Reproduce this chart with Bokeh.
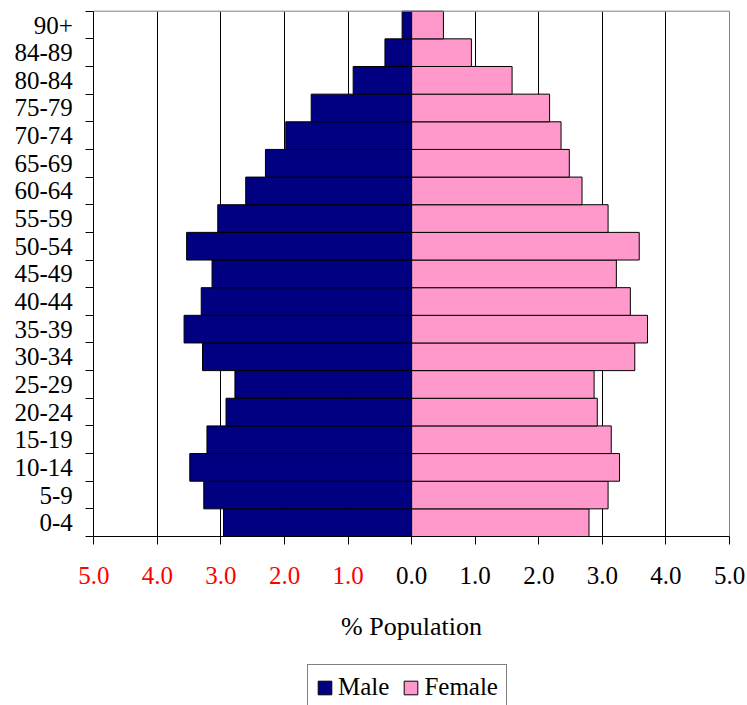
from bokeh.plotting import figure
from bokeh.models import (Range1d, FixedTicker, ColumnDataSource, Legend, LegendItem,
                          LinearAxis, Grid)
from bokeh.embed import file_html
from bokeh.resources import INLINE

ages = ["0-4", "5-9", "10-14", "15-19", "20-24", "25-29", "30-34", "35-39", "40-44",
        "45-49", "50-54", "55-59", "60-64", "65-69", "70-74", "75-79", "80-84", "84-89", "90+"]
male = [2.96, 3.27, 3.49, 3.22, 2.92, 2.78, 3.29, 3.58, 3.31,
        3.14, 3.54, 3.05, 2.61, 2.30, 1.98, 1.58, 0.92, 0.42, 0.15]
female = [2.79, 3.09, 3.27, 3.14, 2.92, 2.87, 3.51, 3.71, 3.44,
          3.22, 3.58, 3.09, 2.68, 2.48, 2.35, 2.17, 1.58, 0.94, 0.50]
x_ticks = [-5, -4, -3, -2, -1, 0, 1, 2, 3, 4, 5]
x_tick_labels = ["5.0", "4.0", "3.0", "2.0", "1.0", "0.0", "1.0", "2.0", "3.0", "4.0", "5.0"]

FONT = "Liberation Serif"
W, H = 747, 705
# pixel placement of the plotting area inside the canvas (layout only)
PL, PR, PT, PB = 93.3, 729.0, 10.7, 536.0

n = len(ages)
xmin, xmax = x_ticks[0], x_ticks[-1]
ux = (PR - PL) / (xmax - xmin)
uy = (PB - PT) / n
x_range = Range1d(xmin - PL / ux, xmax + (W - PR) / ux)
y_range = Range1d(-(H - PB) / uy, n + PT / uy)

ypos = [i + 0.5 for i in range(n)]
src = ColumnDataSource(dict(y=ypos, male_left=[-v for v in male], female=female,
                            zero=[0] * n, age=ages))

p = figure(width=W, height=H, output_backend="svg", toolbar_location=None,
           x_range=x_range, y_range=y_range,
           x_axis_location=None, y_axis_location=None,
           min_border=0, min_border_left=0, min_border_right=0,
           min_border_top=0, min_border_bottom=0)
p.outline_line_color = None
p.background_fill_color = "white"
p.border_fill_color = "white"
p.grid.visible = False

# vertical grid lines, only over the bars area
grid_ticks = [t for t in x_ticks if xmin < t < xmax]
if "cross_bounds" in Grid.properties():
    g = Grid(dimension=0, ticker=FixedTicker(ticks=grid_ticks), cross_bounds=(0, n),
             grid_line_color="black", grid_line_width=1)
    p.add_layout(g)
else:
    p.segment(x0=grid_ticks, y0=[0] * len(grid_ticks), x1=grid_ticks, y1=[n] * len(grid_ticks),
              line_color="black", line_width=1)

m = p.hbar(y="y", left="male_left", right="zero", height=1, source=src,
           fill_color="#000080", line_color="black", line_width=1)
f = p.hbar(y="y", left="zero", right="female", height=1, source=src,
           fill_color="#FF99CC", line_color="black", line_width=1)

# grey plot-area border (top and right)
p.line(x=[xmin, xmax, xmax], y=[n, n, 0], line_color="#808080", line_width=1)

# x axis: black labels for the female side + axis title
xa = LinearAxis(fixed_location=0, ticker=FixedTicker(ticks=x_ticks), bounds=(xmin, xmax))
xa.major_label_overrides = {t: (lab if t >= 0 else "") for t, lab in zip(x_ticks, x_tick_labels)}
xa.major_tick_out = 8
xa.major_tick_in = 0
xa.minor_tick_line_color = None
xa.major_tick_line_color = "black"
xa.axis_line_color = "black"
xa.major_label_standoff = 22
xa.major_label_text_font = FONT
xa.major_label_text_font_size = "25px"
xa.major_label_text_color = "black"
xa.axis_label = "% Population"
xa.axis_label_text_font = FONT
xa.axis_label_text_font_size = "26px"
xa.axis_label_text_font_style = "normal"
xa.axis_label_text_color = "black"
xa.axis_label_standoff = 25
p.add_layout(xa, "below")

# same axis position, red labels for the male side
ra = LinearAxis(fixed_location=0, ticker=FixedTicker(ticks=x_ticks), bounds=(xmin, xmax))
ra.major_label_overrides = {t: (lab if t < 0 else "") for t, lab in zip(x_ticks, x_tick_labels)}
ra.major_tick_out = 8
ra.major_tick_in = 0
ra.major_tick_line_color = None
ra.minor_tick_line_color = None
ra.axis_line_color = None
ra.major_label_standoff = 22
ra.major_label_text_font = FONT
ra.major_label_text_font_size = "25px"
ra.major_label_text_color = "#FF0000"
p.add_layout(ra, "below")

# y axis: labels centred in each band, tick marks on the band boundaries
ya = LinearAxis(fixed_location=xmin, bounds=(0, n),
                ticker=FixedTicker(ticks=ypos, minor_ticks=list(range(n + 1))))
ya.major_label_overrides = {y: a for y, a in zip(ypos, ages)}
ya.major_tick_out = 0
ya.major_tick_in = 0
ya.minor_tick_out = 8
ya.minor_tick_in = 0
ya.minor_tick_line_color = "black"
ya.axis_line_color = "black"
ya.major_label_standoff = 13
ya.major_label_text_font = FONT
ya.major_label_text_font_size = "25px"
ya.major_label_text_color = "black"
p.add_layout(ya, "left")

legend = Legend(items=[LegendItem(label="Male", renderers=[m]),
                       LegendItem(label="Female", renderers=[f])],
                orientation="horizontal", location=(307, -5),
                border_line_color="black", border_line_width=1,
                background_fill_color="white", background_fill_alpha=1,
                padding=8, spacing=13, margin=0,
                glyph_width=17, glyph_height=17, label_standoff=5,
                label_text_font=FONT, label_text_font_size="25px",
                label_text_color="black")
p.add_layout(legend)

open("out.html", "w").write(file_html(p, INLINE))
